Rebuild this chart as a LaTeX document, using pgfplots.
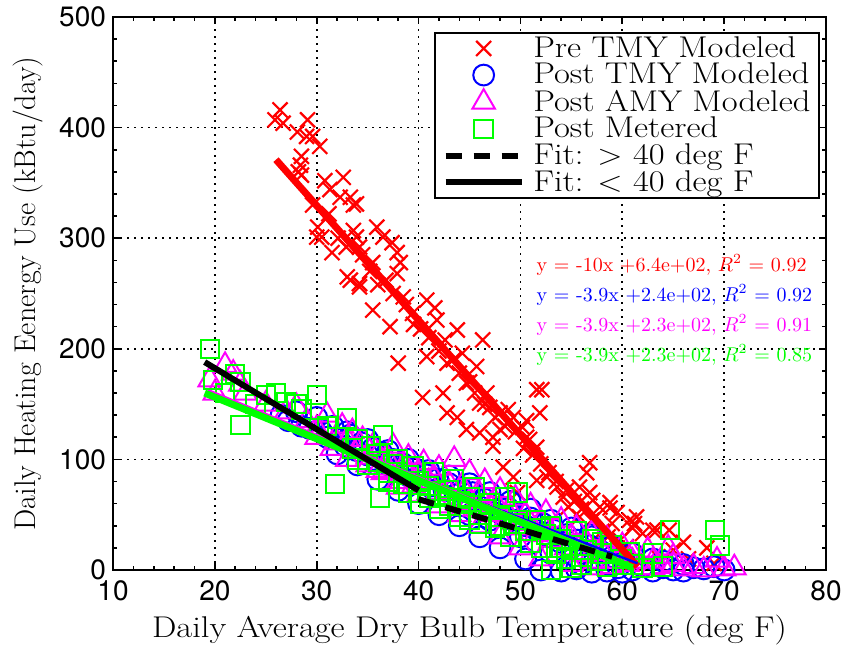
\documentclass[border=0pt]{standalone}
\usepackage{fontspec}
\usepackage{graphicx}
\usepackage{pgfplots}
\usepackage{pgfplotstable}
\pgfplotsset{compat=1.18}
\newfontfamily\heros{TeX Gyre Heros}
\newcommand{\hs}[1]{\scalebox{1.15}[1]{#1}}
\definecolor{mred}{rgb}{1,0,0}
\definecolor{mblue}{rgb}{0,0,1}
\definecolor{mmag}{rgb}{1,0,1}
\definecolor{mgreen}{rgb}{0,1,0}

\pgfplotstableread{
x y
26.4 416
25.9 407
26.7 404
29.1 407
28.1 396
29.0 392
29.6 392
30.3 383
28.5 374
28.4 366
28.2 360
28.5 357
30.8 352
32.6 355
31.3 344
32.3 337
33.3 337
33.6 330
33.9 331
29.6 330
30.1 310
30.0 301
30.5 301
31.5 287
33.6 307
33.9 301
35.9 310
36.5 301
37.4 296
37.9 287
34.2 292
33.0 265
33.3 262
34.2 259
35.5 278
37.9 268
38.0 187
38.2 278
38.5 247
39.4 232
40.8 244
41.6 237
41.8 226
40.8 193
40.4 156
42.8 187
43.8 217
44.3 196
46.3 208
42.4 160
42.8 142
44.7 169
45.7 184
46.7 160
46.0 151
47.0 147
48.0 142
49.3 138
50.6 135
43.8 138
44.7 127
46.0 124
47.3 120
50.6 120
51.6 163
35.5 235
37.2 220
34.2 256
52.1 163
51.9 142
50.2 129
48.8 145
48.0 127
47.3 112
50.9 118
51.6 111
48.3 93
49.3 84
49.7 70
51.6 81
52.6 84
53.6 75
54.2 66
54.7 57
56.8 97
56.5 88
55.8 75
56.8 70
57.8 57
58.8 61
59.5 52
60.7 45
61.4 48
63.0 36
64.6 36
61.0 38
59.0 42
57.4 48
59.8 27
60.4 21
55.8 48
66.0 25
68.3 20
62.0 33
63.4 36
61.2 42
58.8 56
57.1 63
31.2 322
32.1 300
32.9 292
34.5 285
35.2 270
36.0 258
36.8 262
37.5 250
38.8 240
39.5 222
40.2 218
41.0 210
42.0 198
42.6 208
43.4 190
44.0 178
45.0 170
45.5 160
46.5 150
47.5 138
48.5 130
49.5 125
50.3 110
51.2 104
52.0 96
52.8 88
53.5 80
54.5 72
55.3 62
56.0 55
57.0 45
58.0 35
58.6 30
59.5 20
60.3 12
61.0 6
62.5 8
63.5 12
65.0 18
66.5 10
69.0 6
}\pretmy

\pgfplotstableread{
x y
26.5 140
27.2 135
28.0 143
28.5 130
29.3 128
30.0 138
30.5 125
31.0 120
31.6 130
32.2 118
32.8 112
33.3 122
33.9 108
34.4 115
35.0 104
35.5 110
36.0 98
36.4 106
37.0 95
37.5 100
38.0 90
38.5 96
39.0 85
39.6 92
40.2 80
40.8 86
41.3 76
41.9 82
42.5 72
43.0 78
43.6 68
44.2 74
44.8 63
45.3 70
45.9 58
46.5 64
47.0 54
47.6 60
48.2 50
48.8 56
49.3 45
49.9 52
50.5 40
51.0 47
51.6 36
52.2 42
52.8 30
53.3 36
53.9 25
54.5 32
55.0 20
55.6 27
56.2 15
56.8 22
57.3 10
57.9 17
58.5 5
59.0 12
59.6 2
60.2 8
61.0 0
62.0 3
63.0 -1
64.0 2
65.0 0
66.0 -1
68.0 1
69.0 3
70.0 0
52.0 0
54.0 -1
55.5 1
57.0 -2
58.5 -1
60.0 -2
50.5 10
48.0 20
46.0 30
44.0 40
42.0 50
40.0 60
38.0 72
36.0 82
34.0 95
32.0 105
56.8 32
33.0 125
35.0 118
37.0 108
39.0 100
41.0 90
43.0 85
45.0 78
47.0 70
49.0 62
51.0 55
53.0 45
55.0 38
57.0 30
59.0 22
61.0 15
63.0 10
45.0 50
47.0 45
50.0 30
53.0 15
56.0 5
64.0 8
66.0 5
67.0 2
}\posttmy

\pgfplotstableread{
x y
19.5 172
20.0 160
21.0 185
21.8 178
22.5 168
23.0 160
25.0 150
27.0 143
28.0 148
29.0 135
30.0 128
30.0 120
31.0 140
31.5 110
32.0 115
32.5 130
33.0 100
33.5 125
34.0 108
34.5 118
35.0 95
35.5 112
36.0 105
36.5 88
37.0 100
37.5 112
38.0 80
38.5 94
39.0 102
39.5 76
40.0 88
40.5 97
41.0 70
41.5 84
42.0 92
42.5 65
43.0 78
43.5 100
44.0 60
44.5 72
45.0 88
45.5 55
46.0 68
46.5 80
47.0 50
47.5 62
48.0 72
48.5 45
49.0 55
49.5 65
50.0 38
50.5 50
51.0 58
51.5 32
52.0 44
52.5 52
53.0 27
53.5 38
54.0 45
54.5 20
55.0 30
55.5 38
56.0 14
56.5 25
57.0 33
57.5 8
58.0 18
58.5 28
59.0 3
59.5 12
60.0 22
60.5 5
61.0 15
62.0 2
62.5 18
63.0 8
64.0 3
64.5 20
65.0 5
66.0 1
67.0 3
68.0 0
69.3 9
70.0 1
71.0 2
33.0 118
35.0 102
37.0 92
39.0 90
41.0 80
43.0 70
45.0 62
47.0 58
49.0 48
51.0 42
53.0 33
55.0 25
57.0 15
59.0 8
61.0 8
63.0 2
65.0 12
55.0 5
57.0 2
52.0 10
50.0 20
48.0 30
46.0 40
44.0 50
42.0 58
40.0 68
38.0 75
36.0 90
}\postamy

\pgfplotstableread{
x y
19.5 200
19.8 172
21.0 160
22.0 177
22.5 170
22.5 131
24.0 150
25.0 158
26.0 160
27.0 152
28.0 150
28.5 145
30.0 158
30.2 128
31.0 130
31.8 78
32.0 120
33.0 137
33.5 110
34.0 118
35.0 95
35.3 112
36.0 105
36.2 65
36.5 122
37.0 88
37.5 96
38.0 100
38.5 78
39.0 86
39.5 94
40.0 70
40.2 60
41.0 76
41.5 88
42.0 55
42.5 66
43.0 72
43.5 82
44.0 48
44.5 60
45.0 66
45.5 75
46.0 42
46.5 55
47.0 60
47.5 38
48.0 48
48.5 66
49.0 30
49.5 42
49.7 70
50.5 35
51.0 25
51.5 45
52.0 20
52.5 32
53.0 40
53.5 15
54.0 28
54.5 10
55.0 22
55.5 35
56.0 5
56.5 18
57.0 28
57.5 8
58.0 15
58.5 3
59.0 22
60.0 10
60.7 16
61.0 5
62.0 2
63.0 15
64.0 3
64.7 36
69.1 36
69.6 22
55.0 2
53.0 0
34.0 100
36.0 98
38.0 88
40.0 80
42.0 68
44.0 62
46.0 50
48.0 40
50.0 45
52.0 38
54.0 20
56.0 12
58.0 25
60.0 5
45.0 45
43.0 58
41.0 65
39.0 70
37.0 80
}\postmet

\begin{document}
\begin{tikzpicture}
\path[use as bounding box] (-56.5pt,-40.5pt) rectangle (368pt,285pt);
\begin{axis}[
  scale only axis, width=356.5pt, height=276.5pt,
  xmin=10, xmax=80, ymin=0, ymax=500,
  xtick={10,20,...,80}, ytick={0,100,...,500},
  minor tick num=4,
  tick align=inside,
  major tick length=3.5pt, minor tick length=1.8pt,
  tick style={black, line width=0.8pt},
  axis line style={line width=1pt},
  grid=major,
  major grid style={black, line width=0.8pt, dash pattern=on 0.8pt off 2.7pt},
  clip=false,
  clip marker paths=true,
  /pgf/number format/assume math mode=true,
  ticklabel style={font=\heros\fontsize{14}{14}\selectfont},
  xticklabel style={yshift=-2pt},
  xlabel={\hs{Daily Average Dry Bulb Temperature (deg F)}},
  ylabel={Daily Heating Eenergy Use (kBtu/day)},
  label style={font=\fontsize{15}{17}\selectfont},
  ylabel style={yshift=1pt},
  legend style={at={(0.9916,0.973)}, anchor=north east, draw=black, line width=1pt,
    fill=white, font=\fontsize{15}{15}\selectfont, inner xsep=4pt, inner ysep=1.5pt,
    row sep=0.8pt, column sep=4pt, nodes={inner sep=0.3pt}},
  legend cell align=left,
  legend image code/.code={\draw[mark repeat=2,mark phase=2,#1] plot coordinates {(0pt,0pt) (19pt,0pt) (38pt,0pt)};},
]
\addplot[only marks, mark=x, color=mred, mark size=5.3pt, line width=1.1pt] table {\pretmy};
\addlegendentry{\hs{Pre TMY Modeled}}
\addplot[only marks, mark=o, color=mblue, mark size=5.2pt, line width=1pt] table {\posttmy};
\addlegendentry{\hs{Post TMY Modeled}}
\addplot[only marks, mark=triangle, color=mmag, mark size=6.5pt, line width=1pt] table {\postamy};
\addlegendentry{\hs{Post AMY Modeled}}
\addplot[only marks, mark=square, color=mgreen, mark size=4.6pt, line width=1pt] table {\postmet};
\addlegendentry{\hs{Post Metered}}
\addplot[forget plot, mred, line width=3.5pt] coordinates {(26,371) (61.5,3)};
\addplot[forget plot, mblue, line width=1.2pt] coordinates {(25,136) (61.5,6)};
\addplot[forget plot, mmag, line width=1.2pt] coordinates {(19.5,162) (61,4)};
\addplot[forget plot, mgreen, line width=3.5pt] coordinates {(19,160) (61,2)};
\addplot[black, line width=3pt, dash pattern=on 8pt off 6pt] coordinates {(40,64) (59,12)};
\addlegendentry{\hs{Fit: $>$ 40 deg F}}
\addplot[black, line width=3pt] coordinates {(19,188) (40,72)};
\addlegendentry{\hs{Fit: $<$ 40 deg F}}
\node[anchor=west, text=mred, font=\fontsize{10}{12}\selectfont] at (axis cs:50.9,275.8) {y $=$ -10x +6.4e+02, $R^2$ $=$ 0.92};
\node[anchor=west, text=mblue, font=\fontsize{10}{12}\selectfont] at (axis cs:50.9,248.6) {y $=$ -3.9x +2.4e+02, $R^2$ $=$ 0.92};
\node[anchor=west, text=mmag, font=\fontsize{10}{12}\selectfont] at (axis cs:50.9,221.5) {y $=$ -3.9x +2.3e+02, $R^2$ $=$ 0.91};
\node[anchor=west, text=mgreen, font=\fontsize{10}{12}\selectfont] at (axis cs:50.9,194.4) {y $=$ -3.9x +2.3e+02, $R^2$ $=$ 0.85};
\end{axis}
\end{tikzpicture}
\end{document}
